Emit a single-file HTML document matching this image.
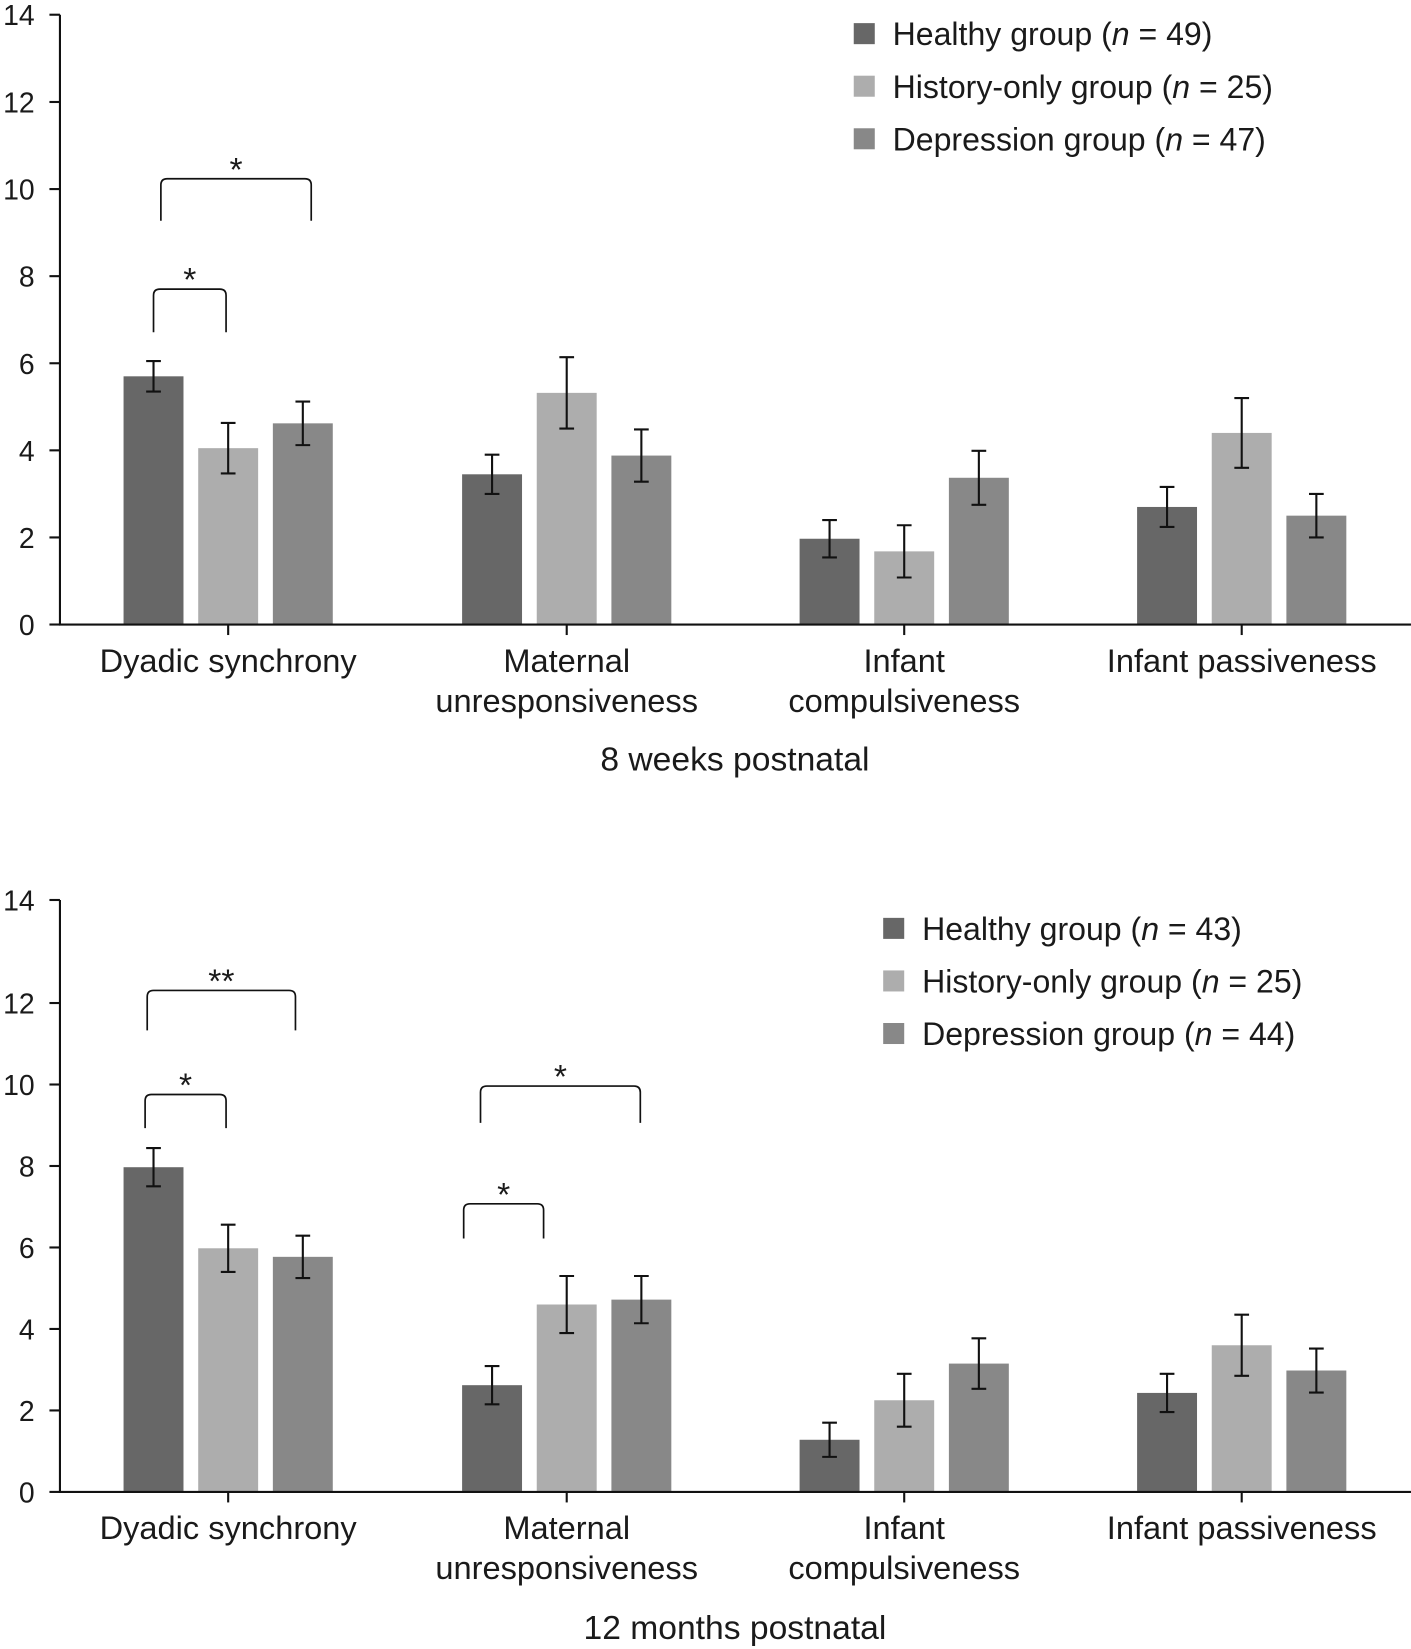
<!DOCTYPE html>
<html><head><meta charset="utf-8"><style>
html,body{margin:0;padding:0;background:#fff}
svg{display:block}
text{font-family:"Liberation Sans",sans-serif;fill:#1a1a1a}
</style></head><body>
<svg id="chart" width="1411" height="1649" viewBox="0 0 1342 1568.4" xmlns="http://www.w3.org/2000/svg"></svg>
<script>
const categories = ["Dyadic synchrony", "Maternal|unresponsiveness", "Infant|compulsiveness", "Infant passiveness"];
const groupNames = ["Healthy group", "History-only group", "Depression group"];
const nWeeks = [49, 25, 47];
const nMonths = [43, 25, 44];
const yTicks = [0, 2, 4, 6, 8, 10, 12, 14];
// 8 weeks
const w8Healthy = [5.7, 3.45, 1.97, 2.7];
const w8History = [4.05, 5.32, 1.68, 4.4];
const w8Depression = [4.62, 3.88, 3.37, 2.5];
const w8HealthyErr = [0.35, 0.45, 0.43, 0.46];
const w8HistoryErr = [0.58, 0.82, 0.6, 0.8];
const w8DepressionErr = [0.5, 0.6, 0.62, 0.5];
// 12 months
const m12Healthy = [7.97, 2.62, 1.28, 2.43];
const m12History = [5.98, 4.6, 2.25, 3.6];
const m12Depression = [5.77, 4.72, 3.15, 2.98];
const m12HealthyErr = [0.47, 0.47, 0.42, 0.47];
const m12HistoryErr = [0.58, 0.7, 0.65, 0.75];
const m12DepressionErr = [0.52, 0.58, 0.62, 0.54];

const NS = "http://www.w3.org/2000/svg";
const svg = document.getElementById("chart");
const colors = ["#676767", "#adadad", "#888888"];
function mk(tag, attrs, parent) {
  const e = document.createElementNS(NS, tag);
  for (const k in attrs) e.setAttribute(k, attrs[k]);
  (parent || svg).appendChild(e);
  return e;
}
function drawPanel(cfg) {
  const g = mk("g", {});
  
  
  const y = v => cfg.y0 - (v / 12) * (cfg.y0 - cfg.y12);
  const yt = v => (v === 14 ? cfg.yTop : y(v));
  const centers = [217, 539, 860, 1181];
  const x = (ci, si) => centers[ci] + (si - 1) * 71;
  const series = [cfg.healthy, cfg.history, cfg.depression];
  const errs = [cfg.hErr, cfg.hiErr, cfg.dErr];
  series.forEach((vals, si) => {
    vals.forEach((v, ci) => {
      const r = mk("rect", {x: x(ci, si) - 28.5, y: y(v), width: 57, height: y(0) - y(v), fill: colors[si]}, g);
      
      
      const cx = x(ci, si), lo = y(v - errs[si][ci]), hi = y(v + errs[si][ci]);
      const eb = mk("path", {d: `M${cx},${lo}V${hi}M${cx-7},${lo}H${cx+7}M${cx-7},${hi}H${cx+7}`, stroke: "#111", "stroke-width": 2, fill: "none"}, g);
      
      
    });
  });
  const ax = mk("path", {d: `M57,${cfg.yTop}V${y(0)}H1342`, stroke: "#111", "stroke-width": 2, fill: "none"}, g);
  
  
  yTicks.forEach(t => {
    mk("line", {x1: 47, x2: 57, y1: yt(t), y2: yt(t), stroke: "#111", "stroke-width": 2}, g);
    const tx = mk("text", {x: 33, y: yt(t) + 10, "text-anchor": "end", "font-size": 27}, g);
    tx.textContent = t;
    
    
  });
  categories.forEach((c, ci) => {
    mk("line", {x1: centers[ci], x2: centers[ci], y1: y(0), y2: y(0) + 10, stroke: "#111", "stroke-width": 2}, g);
    c.split("|").forEach((ln, li) => {
      const tx = mk("text", {x: centers[ci], y: y(0) + 45 + li * 38, "text-anchor": "middle", "font-size": 31}, g);
      tx.textContent = ln;
      
      
    });
  });
  const tt = mk("text", {x: 699, y: cfg.titleY, "text-anchor": "middle", "font-size": 32}, g);
  tt.textContent = cfg.title;
  
  
  cfg.brackets.forEach(b => {
    const p = mk("path", {d: `M${b[0]},${b[3]}V${b[2]+6}Q${b[0]},${b[2]} ${b[0]+6},${b[2]}H${b[1]-6}Q${b[1]},${b[2]} ${b[1]},${b[2]+6}V${b[3]}`, stroke: "#111", "stroke-width": 1.6, fill: "none"}, g);
    
    
    const s = mk("text", {x: (b[0] + b[1]) / 2, y: b[2] + 2, "text-anchor": "middle", "font-size": 32}, g);
    s.textContent = b[4];
    
    
  });
  groupNames.forEach((nm, i) => {
    const ly = cfg.legY + i * cfg.legStep;
    const r = mk("rect", {x: cfg.legX, y: ly - 10, width: 20, height: 20, fill: colors[i]}, g);
    
    
    const tx = mk("text", {x: cfg.legX + 37, y: ly + 11, "font-size": 30.5}, g);
    
    
    tx.innerHTML = nm + ' (<tspan font-style="italic">n</tspan> = ' + cfg.ns[i] + ')';
  });
}
drawPanel({name: "panel-8-weeks", y0: 594, y12: 97, yTop: 14, healthy: w8Healthy, history: w8History, depression: w8Depression,
  hErr: w8HealthyErr, hiErr: w8HistoryErr, dErr: w8DepressionErr, title: "8 weeks postnatal", titleY: 733,
  brackets: [[153, 296, 170, 210, "*"], [146, 215, 275, 316, "*"]], legX: 812, legY: 32, legStep: 50, ns: nWeeks});
drawPanel({name: "panel-12-months", y0: 1419, y12: 954, yTop: 856, healthy: m12Healthy, history: m12History, depression: m12Depression,
  hErr: m12HealthyErr, hiErr: m12HistoryErr, dErr: m12DepressionErr, title: "12 months postnatal", titleY: 1559,
  brackets: [[140, 281, 942, 980, "**"], [138, 215, 1041, 1073, "*"], [457, 609, 1033, 1068, "*"], [441, 517, 1145, 1178, "*"]],
  legX: 840, legY: 883, legStep: 50, ns: nMonths});
</script>
</body></html>
